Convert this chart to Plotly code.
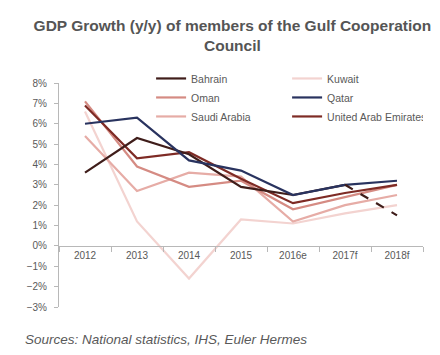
import plotly.graph_objects as go

years = ["2012", "2013", "2014", "2015", "2016e", "2017f", "2018f"]
bahrain = [3.6, 5.3, 4.5, 2.9, 2.5, 3.0, 1.5]
kuwait = [6.6, 1.2, -1.6, 1.3, 1.1, 1.6, 2.0]
oman = [7.1, 3.9, 2.9, 3.2, 1.8, 2.4, 3.0]
qatar = [6.0, 6.3, 4.2, 3.7, 2.5, 3.0, 3.2]
saudi = [5.4, 2.7, 3.6, 3.4, 1.2, 2.0, 2.5]
uae = [6.9, 4.3, 4.6, 3.3, 2.1, 2.6, 3.0]

colors = {
    "Bahrain": "#3f1d1a",
    "Kuwait": "#f3d3d0",
    "Oman": "#d58b83",
    "Qatar": "#29335f",
    "Saudi Arabia": "#e6aca6",
    "United Arab Emirates": "#7e2b25",
}

fig = go.Figure()
LW = 2.2

def add(name, vals, rank):
    fig.add_trace(go.Scatter(
        x=years, y=vals, name=name, mode="lines",
        line=dict(color=colors[name], width=LW),
        legendrank=rank,
    ))

add("Kuwait", kuwait, 2)
add("Saudi Arabia", saudi, 5)
add("Oman", oman, 3)
add("United Arab Emirates", uae, 6)
# Bahrain: actual/estimate solid, last forecast segment dashed
fig.add_trace(go.Scatter(
    x=years[:6], y=bahrain[:6], name="Bahrain", mode="lines",
    line=dict(color=colors["Bahrain"], width=LW), legendrank=1,
))
add("Qatar", qatar, 4)
fig.add_trace(go.Scatter(
    x=years[5:], y=bahrain[5:], name="Bahrain", mode="lines",
    line=dict(color=colors["Bahrain"], width=LW, dash="dash"),
    showlegend=False,
))

fig.update_layout(
    width=440, height=355,
    margin=dict(l=51, r=25, t=75, b=56, autoexpand=False),
    paper_bgcolor="white", plot_bgcolor="white",
    font=dict(family="Liberation Sans, Arial, sans-serif", color="#595959", size=10),
    title=dict(
        text="<b>GDP Growth (y/y) of members of the Gulf Cooperation<br>Council</b>",
        x=0.51, xanchor="center", y=0.935, yanchor="top",
        font=dict(size=15.5, color="#555555"),
    ),
    showlegend=True,
    legend=dict(
        orientation="h", x=0.253, y=1.085, xanchor="left", yanchor="top",
        entrywidth=91, entrywidthmode="pixels",
        bgcolor="rgba(0,0,0,0)", font=dict(size=10.5, color="#595959"),
        itemwidth=30, traceorder="normal",
    ),
    xaxis=dict(
        type="category", categoryorder="array", categoryarray=years,
        anchor="free", position=3 / 11,
        showline=True, linecolor="#b8b8b8", linewidth=1,
        ticks="outside", tickson="boundaries", ticklen=5, tickcolor="#b8b8b8",
        showgrid=False, zeroline=False,
        tickfont=dict(size=10, color="#595959"),
        range=[-0.5, 6.5],
    ),
    yaxis=dict(
        range=[-3, 8], dtick=1, ticksuffix="%",
        showline=True, linecolor="#b8b8b8", linewidth=1,
        ticks="outside", ticklen=4, tickcolor="#b8b8b8",
        ticklabelstandoff=5,
        showgrid=False, zeroline=False,
        tickfont=dict(size=10, color="#595959"),
    ),
    annotations=[dict(
        text="<i>Sources: National statistics, IHS, Euler Hermes</i>",
        xref="paper", yref="paper", x=-0.1, y=-0.143,
        xanchor="left", yanchor="middle", showarrow=False,
        font=dict(size=13.5, color="#595959"),
    )],
)

fig.write_html("out.html")
